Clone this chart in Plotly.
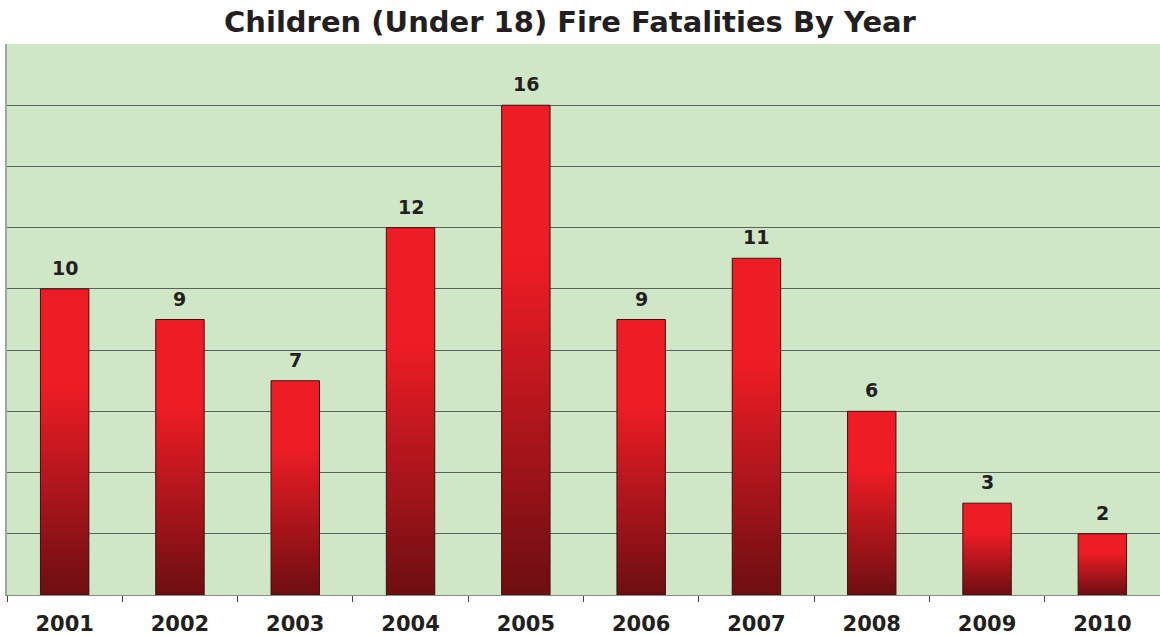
import plotly.graph_objects as go

years = ["2001", "2002", "2003", "2004", "2005", "2006", "2007", "2008", "2009", "2010"]
fatalities = [10, 9, 7, 12, 16, 9, 11, 6, 3, 2]
title_text = "Children (Under 18) Fire Fatalities By Year"

TOP = (238, 28, 37)
BOTTOM = (106, 14, 18)
N = 40
BAR_W = 0.42
FONT = "DejaVu Sans"

def color_at(t):  # t: 0 at top, 1 at bottom
    f = 0.0 if t < 0.3 else (t - 0.3) / 0.7
    c = [round(TOP[i] + (BOTTOM[i] - TOP[i]) * f) for i in range(3)]
    return f"rgb({c[0]},{c[1]},{c[2]})"

fig = go.Figure()
for k in range(N):
    t = 1 - (k + 0.5) / N
    lo = [max(0.0, v * (k - 0.6) / N) for v in fatalities]
    hi = [v * (k + 1) / N for v in fatalities]
    fig.add_trace(go.Bar(
        x=years,
        y=[h - l for h, l in zip(hi, lo)],
        base=lo,
        width=BAR_W,
        marker=dict(color=color_at(t), line=dict(width=0)),
        hoverinfo="skip",
        showlegend=False,
    ))

fig.add_trace(go.Bar(
    x=years,
    y=fatalities,
    width=BAR_W,
    marker=dict(color="rgba(0,0,0,0)", line=dict(color="#3b1414", width=1)),
    hoverinfo="x+y",
    showlegend=False,
))

annotations = [
    dict(x=i, y=v, xref="x", yref="y", text=str(v), showarrow=False,
         yanchor="bottom", yshift=8,
         font=dict(family=FONT, size=19, color="#231F20", weight="bold"))
    for i, v in enumerate(fatalities)
]

fig.update_layout(
    width=1160, height=635,
    barmode="overlay",
    paper_bgcolor="white",
    plot_bgcolor="#D0E7C7",
    margin=dict(l=7, r=0, t=44, b=40, autoexpand=False),
    annotations=annotations,
    title=dict(text=title_text, x=570 / 1160, xanchor="center", y=1 - 22 / 635, yanchor="middle",
               font=dict(family=FONT, size=29, color="#231F20", weight="bold")),
    xaxis=dict(
        type="category",
        range=[-0.5, len(years) - 0.5],
        automargin=False,
        showgrid=False,
        showline=True, linecolor="#8a8a8a", linewidth=1,
        ticks="outside", tickson="boundaries", ticklen=6, tickcolor="#444444",
        tickfont=dict(family=FONT, size=21, color="#231F20", weight="bold"),
        ticklabelstandoff=10,
        tickangle=0,
    ),
    yaxis=dict(
        range=[0, 18], dtick=2,
        automargin=False,
        showgrid=True, gridcolor="#5a625a", gridwidth=1,
        showticklabels=False, ticks="",
        showline=True, linecolor="#9aab9a", linewidth=2,
        zeroline=False,
    ),
)

fig.write_html("out.html", config={"displayModeBar": False},
               post_script="document.body.style.margin='0px';")
